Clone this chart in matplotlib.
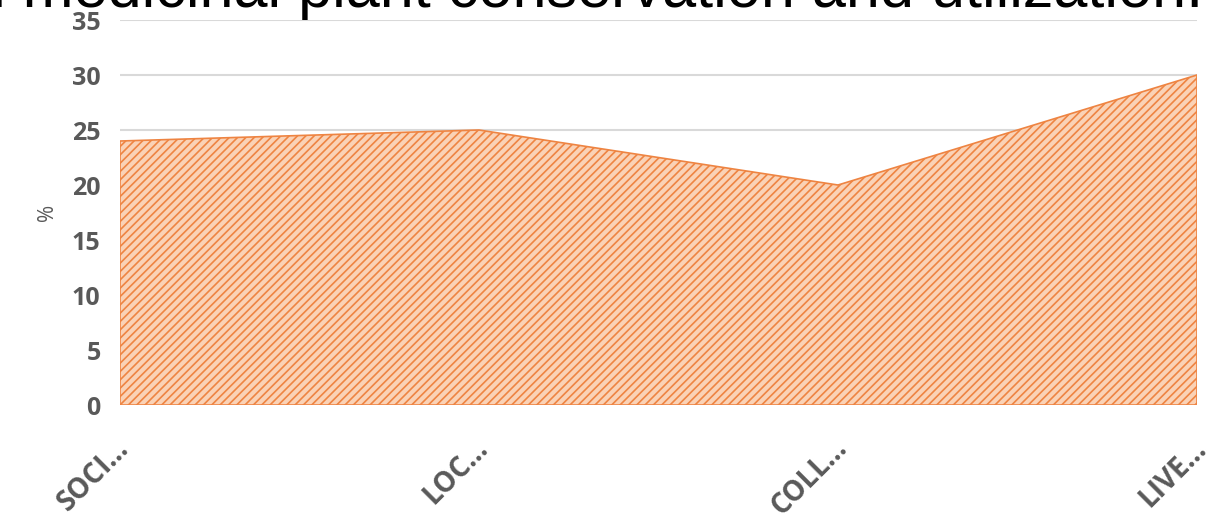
import matplotlib
matplotlib.use("Agg")
import matplotlib.pyplot as plt
import matplotlib.transforms as mtransforms

categories = ["SOCI…", "LOC…", "COLL…", "LIVE…"]
values = [24, 25, 20, 30]
yticks = [0, 5, 10, 15, 20, 25, 30, 35]
title = "Perception on medicinal plant conservation and utilization."

plt.rcParams['hatch.linewidth'] = 1.2
plt.rcParams['hatch.color'] = '#EE8442'

fig = plt.figure(figsize=(12.07, 5.21), dpi=100)
ax = fig.add_axes([0.0994, 0.2226, 0.9917 - 0.0994, 0.9616 - 0.2226])

x = list(range(len(categories)))
ax.fill_between(x, values, 0, facecolor='#FAD2B6', edgecolor='#EE8442',
                hatch='////', linewidth=1.2, zorder=2)

ax.set_xlim(0, len(categories) - 1)
ax.set_ylim(0, 35)
ax.set_yticks(yticks)
ax.grid(axis='y', color='#D9D9D9', linewidth=1.5, zorder=0)
ax.set_axisbelow(True)
for s in ax.spines.values():
    s.set_visible(False)
ax.tick_params(length=0)
ax.tick_params(axis='y', pad=14)
for lab in ax.get_yticklabels():
    lab.set_fontfamily('Open Sans')
    lab.set_fontweight('bold')
    lab.set_fontsize(18)
    lab.set_color('#595959')

ax.set_xticks(x)
ax.set_xticklabels(categories, rotation=45, ha='right', va='top',
                   rotation_mode='anchor', fontfamily='Open Sans',
                   fontweight='bold', fontsize=20, color='#595959')
offset = mtransforms.ScaledTranslation(-5 / 100, -24 / 100, fig.dpi_scale_trans)
for lab in ax.get_xticklabels():
    lab.set_transform(lab.get_transform() + offset)

ax.set_ylabel('%', fontfamily='Open Sans', fontsize=15, color='#595959', labelpad=10)

fig.text(0.997, 1 - 7 / 521, title, ha='right', va='baseline',
         fontfamily='Liberation Sans', fontsize=44, color='black')

fig.savefig('out.png', dpi=100)
